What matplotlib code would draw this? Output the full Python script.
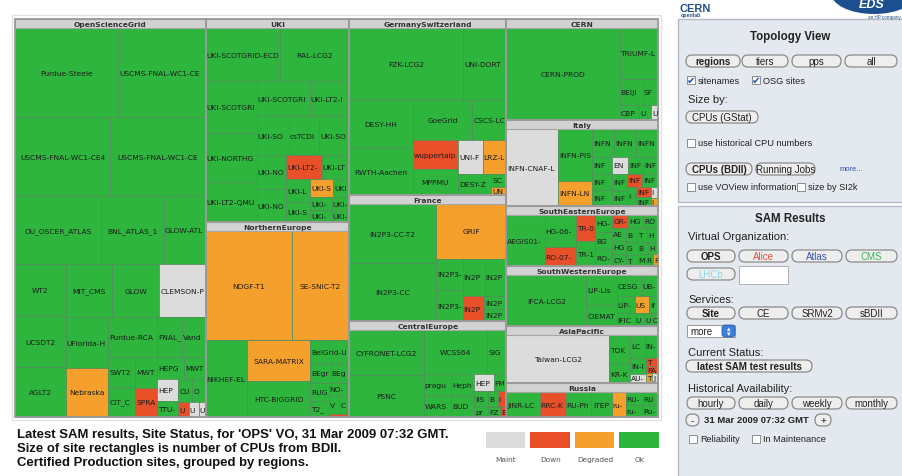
import matplotlib
matplotlib.use("Agg")
import matplotlib.pyplot as plt
from matplotlib.patches import Rectangle, FancyBboxPatch, Ellipse

# site lists per region: (name, cpus, status)
osg_sites = [
    ("Purdue-Steele", 9150, "ok"), ("USCMS-FNAL-WC1-CE2", 7740, "ok"),
    ("USCMS-FNAL-WC1-CE4", 7490, "ok"), ("USCMS-FNAL-WC1-CE", 7480, "ok"),
    ("OU_OSCER_ATLAS", 5830, "ok"), ("BNL_ATLAS_1", 4220, "ok"),
    ("GLOW-ATLAS", 2810, "ok"), ("WT2", 2600, "ok"), ("UCSDT2", 2590, "ok"),
    ("AGLT2", 2490, "ok"), ("MIT_CMS", 2485, "ok"), ("GLOW", 2480, "ok"),
    ("CLEMSON-Palmetto", 2450, "maint"), ("UFlorida-HPC", 2140, "ok"),
    ("Nebraska", 2090, "degraded"), ("Purdue-RCAC", 1890, "ok"),
    ("FNAL_GPGRID", 1000, "ok"), ("Vanderbilt", 900, "ok"), ("SWT2_CPB", 810, "ok"),
    ("CIT_CMS_T2", 800, "ok"), ("MWT2_IU", 690, "ok"), ("SPRACE", 640, "down"),
    ("HEPGRID_UERJ", 600, "ok"), ("MWT2_UC", 480, "ok"), ("HEPGRID", 450, "maint"),
    ("TTU-ANTAEUS", 345, "ok"), ("CUFormosa", 320, "ok"), ("OU_OCHEP", 300, "ok"),
    ("UCR-HEP", 150, "down"), ("UC_ATLAS", 150, "maint"), ("UTA_SWT2", 100, "maint"),
]
uki_sites = [
    ("UKI-SCOTGRID-ECDF", 3975, "ok"), ("RAL-LCG2", 3657, "ok"),
    ("UKI-SCOTGRID-GLASGOW", 2652, "ok"), ("UKI-NORTHGRID-MAN", 2496, "ok"),
    ("UKI-LT2-QMUL", 2028, "ok"), ("UKI-SCOTGRID-DURHAM", 1820, "ok"),
    ("UKI-LT2-IC-HEP", 1365, "ok"), ("UKI-SOUTHGRID-OX", 1250, "ok"),
    ("csTCDie", 1170, "ok"), ("UKI-SOUTHGRID-BHAM", 1165, "ok"),
    ("UKI-NORTHGRID-LANCS", 990, "ok"), ("UKI-NORTHGRID-LIV", 960, "ok"),
    ("UKI-LT2-Brunel", 840, "down"), ("UKI-LT2-RHUL", 650, "ok"),
    ("UKI-LT2-UCL-HEP", 570, "ok"), ("UKI-SCOTGRID-?", 475, "ok"),
    ("UKI-SE-DUB", 420, "degraded"), ("UKI-LT2-QMUL2", 300, "ok"),
    ("UKI-NORTHGRID-SHEF", 280, "ok"), ("UKI-SOUTHGRID-CAM", 250, "ok"),
    ("UKI-SOUTHGRID-BRIS", 230, "ok"), ("UKI-LT2-UCL-CENTRAL", 200, "ok"),
]
ne_sites = [
    ("NDGF-T1", 9350, "degraded"), ("SE-SNIC-T2", 6270, "degraded"),
    ("NIKHEF-ELPROD", 3150, "ok"), ("SARA-MATRIX", 2560, "degraded"),
    ("HTC-BIGGRID", 2240, "ok"), ("BelGrid-UCL", 875, "ok"),
    ("BEgrid-ULB-VUB", 420, "ok"), ("BEgrid-KULeuven", 380, "ok"),
    ("RUG-CIT", 320, "ok"), ("T2_Estonia", 300, "ok"), ("NO-NORGRID-T2", 250, "ok"),
    ("VU-Amsterdam", 200, "ok"), ("CT-SARA", 180, "ok"), ("NL-UU", 60, "down"),
]
gs_sites = [
    ("FZK-LCG2", 8136, "ok"), ("UNI-DORTMUND", 3066, "ok"), ("DESY-HH", 3050, "ok"),
    ("RWTH-Aachen", 2950, "ok"), ("GoeGrid", 2400, "ok"), ("CSCS-LCG2", 1360, "ok"),
    ("wuppertalprod", 1305, "down"), ("MPPMU", 1170, "ok"),
    ("UNI-FREIBURG", 825, "maint"), ("LRZ-LMU", 792, "degraded"),
    ("DESY-ZN", 704, "ok"), ("SCAI", 200, "ok"), ("UNI-SIEGEN-HEP", 120, "degraded"),
]
france_sites = [
    ("IN2P3-CC-T2", 5104, "ok"), ("IN2P3-CC", 5016, "ok"), ("GRIF", 3819, "degraded"),
    ("IN2P3-LPC", 840, "ok"), ("IN2P3-CPPM", 830, "ok"), ("IN2P3-SUBATECH", 820, "ok"),
    ("IN2P3-LAPP", 812, "ok"), ("IN2P3-IRES", 540, "down"), ("IN2P3-LPSC", 285, "ok"),
    ("IN2P3-LPNHE", 266, "ok"),
]
ce_sites = [
    ("CYFRONET-LCG2", 3312, "ok"), ("PSNC", 3096, "ok"), ("WCSS64", 2752, "ok"),
    ("SiGNET", 817, "ok"), ("praguelcg2", 600, "ok"), ("WARSAW-EGEE", 590, "ok"),
    ("Hephy-Vienna", 500, "ok"), ("BUDAPEST", 490, "ok"), ("HEPHY-UIBK", 336, "maint"),
    ("FMPhI-UNIBA", 224, "ok"), ("IISAS-Bratislava", 200, "ok"),
    ("IEPSAS-Kosice", 136, "down"), ("prague_cesnet", 150, "ok"), ("BY-UIIP", 150, "ok"),
    ("FZU-T3", 120, "ok"), ("ELTE", 60, "down"),
]
cern_sites = [
    ("CERN-PROD", 10396, "ok"), ("TRIUMF-LCG2", 1938, "ok"), ("BEIJING-LCG2", 600, "ok"),
    ("SFU-LCG2", 396, "ok"), ("CBPF", 312, "ok"), ("UniAndes", 180, "ok"),
    ("UNIBE-LHEP", 110, "maint"),
]
italy_sites = [
    ("INFN-CNAF-LHCB", 3952, "maint"), ("INFN-PISA", 1734, "ok"),
    ("INFN-LNL-2", 850, "degraded"), ("INFN-BARI", 590, "ok"), ("INFN-NAPOLI", 590, "ok"),
    ("INFN-MILANO", 588, "ok"), ("INFN-TORINO", 330, "ok"), ("INFN-PADOVA", 328, "ok"),
    ("INFN-ROMA1", 300, "ok"), ("ENEA-INFO", 280, "maint"), ("INFN-CATANIA", 260, "ok"),
    ("INFN-FRASCATI", 258, "ok"), ("INFN-BOLOGNA", 250, "ok"), ("INFN-FERRARA", 220, "ok"),
    ("INFN-PERUGIA", 200, "down"), ("INFN-GENOVA", 198, "ok"), ("INFN-CAGLIARI", 180, "ok"),
    ("INFN-LECCE", 150, "down"), ("INFN-TRIESTE", 120, "ok"), ("INFN-PAVIA", 80, "maint"),
    ("INFN-FIRENZE", 60, "degraded"),
]
see_sites = [
    ("AEGIS01-PHY-SCL", 1961, "ok"), ("HG-06-EKT", 990, "ok"), ("RO-07-NIPNE", 600, "down"),
    ("TR-01-ULAKBIM", 520, "down"), ("TR-10-ULAKBIM", 490, "ok"), ("HG-01-GRNET", 290, "ok"),
    ("BG05-SUGrid", 289, "ok"), ("RO-01-ICI", 288, "ok"), ("GR-01-AUTH", 200, "down"),
    ("HG-02-IASA", 199, "ok"), ("RO-02-NIPNE", 180, "ok"), ("AEGIS04-KG", 180, "ok"),
    ("HG-03-AUTH", 179, "ok"), ("CY-01-KIMON", 178, "ok"), ("BG01-IPP", 150, "ok"),
    ("TR-03-METU", 150, "ok"), ("HG-04-CTI", 149, "ok"), ("GR-02-UoM", 148, "ok"),
    ("TR-04-ERCIYES", 130, "ok"), ("BG04-ACAD", 130, "ok"), ("HG-05-FORTH", 120, "ok"),
    ("MK-01-UKIM", 100, "ok"), ("RO-03-UPB", 100, "ok"), ("RO-08-UVT", 60, "degraded"),
]
swe_sites = [
    ("IFCA-LCG2", 4029, "ok"), ("LIP-Lisbon", 900, "ok"), ("CIEMAT-LCG2", 630, "ok"),
    ("CESGA-EGEE", 525, "ok"), ("UB-LCG2", 336, "ok"), ("LIP-Coimbra", 300, "ok"),
    ("IFIC-LCG2", 240, "ok"), ("USC-LCG2", 235, "degraded"), ("ifae", 150, "ok"),
    ("UAM-LCG2", 120, "ok"), ("UPV-GRyCAP", 100, "ok"), ("CETA-GRID", 80, "ok"),
]
ap_sites = [
    ("Taiwan-LCG2", 4888, "maint"), ("TOKYO-LCG2", 609, "ok"), ("KR-KISTI-GCRT-01", 400, "ok"),
    ("LCG_KNU", 325, "ok"), ("IN-DAE-VECC-01", 300, "ok"), ("IN-INDIACMS-TIFR", 250, "ok"),
    ("AU-ATLAS", 150, "maint"), ("TW-NCUHEP", 100, "down"), ("PAKGRID-LCG2", 80, "down"),
    ("TW-NTU-HEP", 60, "degraded"), ("JP-HIROSHIMA", 60, "maint"),
]
russia_sites = [
    ("JINR-LCG2", 825, "ok"), ("RRC-KI", 640, "down"), ("RU-Phys-SPbSU", 620, "ok"),
    ("ITEP", 520, "ok"), ("ru-Moscow-SINP", 350, "degraded"), ("RU-Protvino-IHEP", 220, "ok"),
    ("ru-PNPI", 200, "ok"), ("RU-SPbSU", 200, "ok"), ("Ru-Troitsk-INR", 180, "ok"),
]

regions = {
    "OpenScienceGrid": osg_sites, "UKI": uki_sites, "NorthernEurope": ne_sites,
    "GermanySwitzerland": gs_sites, "France": france_sites, "CentralEurope": ce_sites,
    "CERN": cern_sites, "Italy": italy_sites, "SouthEasternEurope": see_sites,
    "SouthWesternEurope": swe_sites, "AsiaPacific": ap_sites, "Russia": russia_sites,
}
columns = [
    ["OpenScienceGrid"],
    ["UKI", "NorthernEurope"],
    ["GermanySwitzerland", "France", "CentralEurope"],
    ["CERN", "Italy", "SouthEasternEurope", "SouthWesternEurope", "AsiaPacific", "Russia"],
]

status_names = ["Maint", "Down", "Degraded", "Ok"]
status_keys = ["maint", "down", "degraded", "ok"]
colors = {"maint": "#dcdcdc", "down": "#e8502a", "degraded": "#f5a02d", "ok": "#2db53e"}

caption = ["Latest SAM results, Site Status, for 'OPS' VO, 31 Mar 2009 07:32 GMT.",
           "Size of site rectangles is number of CPUs from BDII.",
           "Certified Production sites, grouped by regions."]


def worst(row, side):
    s = sum(row)
    return max(max(side * side * r / (s * s), s * s / (side * side * r)) for r in row)


def squarify(values, x, y, w, h):
    total = sum(values)
    vals = [v * w * h / total for v in values]
    rects = []
    while vals:
        side = min(w, h)
        row = [vals[0]]
        i = 1
        while i < len(vals) and worst(row + [vals[i]], side) <= worst(row, side):
            row.append(vals[i])
            i += 1
        s = sum(row)
        if w >= h:
            t = s / h
            yy = y
            for v in row:
                rects.append((x, yy, t, v / t))
                yy += v / t
            x += t
            w -= t
        else:
            t = s / w
            xx = x
            for v in row:
                rects.append((xx, y, v / t, t))
                xx += v / t
            y += t
            h -= t
        vals = vals[i:]
    return rects


W, H = 903, 477
fig = plt.figure(figsize=(9.03, 4.77), dpi=100)
ax = fig.add_axes([0, 0, 1, 1])
ax.set_xlim(0, W)
ax.set_ylim(H, 0)
ax.axis("off")
renderer = fig.canvas.get_renderer()

X0, Y0, X1, Y1 = 15, 20, 658, 418
HEAD = 9

ax.add_patch(Rectangle((12, 16), 649, 405, fc="none", ec="#e2e2e2", lw=1))


def draw_region(name, x, y, w, h):
    sites = sorted(regions[name], key=lambda s: -s[1])
    rects = squarify([s[1] for s in sites], x, y + HEAD, w, h - HEAD)
    for (sname, cpus, st), (rx, ry, rw, rh) in zip(sites, rects):
        p = Rectangle((rx, ry), rw, rh, fc=colors[st], ec="#4f8a58", lw=0.5)
        ax.add_patch(p)
        if rw < 4 or rh < 6:
            continue
        t = ax.text(rx + rw / 2, ry + rh / 2, sname, ha="center", va="center",
                    fontsize=5.4, color="#1c1c1c", family="DejaVu Sans", clip_on=True)
        tw = t.get_window_extent(renderer).width
        if tw > rw - 2:
            # the cell is too narrow: show as much of the name as fits, from the left
            t.set_ha("left")
            t.set_x(rx + 1)
            shown = sname
            while len(shown) > 1 and t.get_window_extent(renderer).width > rw - 2:
                shown = shown[:-1]
                t.set_text(shown)
        t.set_clip_path(p)
    ax.add_patch(Rectangle((x, y), w, HEAD, fc="#d2d2d2", ec="#a5a5a5", lw=0.8))
    ax.text(x + w / 2, y + HEAD / 2 + 0.3, name, ha="center", va="center",
            fontsize=5.4, fontweight="bold", color="#333333", family="DejaVu Sans")
    ax.add_patch(Rectangle((x, y), w, h, fc="none", ec="#9a9a9a", lw=1.3))


ratios = []
for col in columns:
    s = sum(sum(site[1] for site in regions[r]) for r in col)
    ratios.append(s / ((Y1 - Y0) - HEAD * len(col)))
k = (X1 - X0) / sum(ratios)
cx = X0
for col, ratio in zip(columns, ratios):
    cw = k * ratio
    s = sum(sum(site[1] for site in regions[r]) for r in col)
    avail = (Y1 - Y0) - HEAD * len(col)
    cy = Y0
    for r in col:
        rh = avail * sum(site[1] for site in regions[r]) / s + HEAD
        draw_region(r, cx, cy, cw, rh)
        cy += rh
    cx += cw

# caption
for i, line in enumerate(caption):
    ax.text(17, 435 + i * 14, line, fontsize=9.45, fontweight="bold", color="#111111",
            va="center", family="Liberation Sans")

# legend
for i, (lab, key) in enumerate(zip(status_names, status_keys)):
    lx = 486 + i * 44.5
    ax.add_patch(Rectangle((lx, 433), 39.5, 16, fc=colors[key], ec="none"))
    ax.text(lx + 20, 460, lab, fontsize=5.3, ha="center", va="center", color="#555555",
            family="DejaVu Sans")

# right panel
PF = "Liberation Sans"
ax.text(680, 9, "CERN", fontsize=8, fontweight="bold", color="#1f4f8f", va="center", family=PF)
ax.text(681, 15.5, "openlab", fontsize=3.8, fontweight="bold", color="#1f4f8f", va="center", family=PF)
ax.add_patch(Ellipse((874, -6), 86, 42, fc="#1c4f8e", ec="none"))
ax.text(872, 5, "EDS", fontsize=9, fontweight="bold", style="italic", color="white",
        ha="center", va="center", family=PF)
ax.text(884, 18, "an HP company", fontsize=3.3, color="#1c4f8e", ha="center", va="center", family=PF)

ax.add_patch(Rectangle((678, 20), 240, 183, fc="#e4e8ef", ec="#b4bac4", lw=1))
ax.add_patch(Rectangle((678, 207), 240, 280, fc="#e4e8ef", ec="#b4bac4", lw=1))


def button(x0, x1, yc, label, bold=False, color="#222222", hh=12):
    ax.add_patch(FancyBboxPatch((x0, yc - hh / 2), x1 - x0, hh,
                                boxstyle="round,pad=0,rounding_size=%g" % (hh / 2),
                                fc="#eeeeee", ec="#8a8a8a", lw=0.9))
    ax.text((x0 + x1) / 2, yc, label, ha="center", va="center", fontsize=7,
            fontweight="bold" if bold else "normal", color=color, family=PF)


def checkbox(x, yc, checked, label):
    ax.add_patch(Rectangle((x, yc - 4), 8, 8, fc="white", ec="#8c8c8c", lw=0.7))
    if checked:
        ax.text(x + 4.5, yc - 0.5, "\u2714", color="#2356b8", fontsize=7.5,
                ha="center", va="center", family="DejaVu Sans")
    ax.text(x + 11, yc, label, fontsize=6.6, va="center", color="#222222", family=PF)


def label(x, yc, text, size=8, bold=False, center=False):
    ax.text(x, yc, text, fontsize=size, va="center", ha="center" if center else "left",
            fontweight="bold" if bold else "normal", color="#222222", family=PF)


label(790, 37, "Topology View", 8.3, True, True)
for (a, b, t, bo) in [(686, 740, "regions", True), (742, 788, "tiers", False),
                      (792, 841, "pps", False), (845, 897, "all", False)]:
    button(a, b, 62, t, bo)
checkbox(687, 81, True, "sitenames")
checkbox(752, 81, True, "OSG sites")
label(688, 100, "Size by:")
button(686, 758, 118, "CPUs (GStat)")
checkbox(687, 144, False, "use historical CPU numbers")
button(686, 752, 170, "CPUs (BDII)", True)
button(756, 815, 170, "Running Jobs")
ax.text(840, 170, "more...", fontsize=5.5, color="#3355aa", va="center", family=PF)
checkbox(687, 188, False, "use VOView information")
checkbox(797, 188, False, "size by SI2k")

label(790, 219, "SAM Results", 8.3, True, True)
label(688, 237, "Virtual Organization:")
for (a, b, t, bo, c) in [(687, 735, "OPS", True, "#222222"), (739, 788, "Alice", False, "#e8503c"),
                         (792, 842, "Atlas", False, "#3a55a8"), (846, 897, "CMS", False, "#3cb45a")]:
    button(a, b, 257, t, bo, c)
button(687, 735, 275, "LHCb", False, "#8fd6e6")
ax.add_patch(Rectangle((739, 267), 49, 18, fc="white", ec="#b0b0b0", lw=0.7))
label(688, 300, "Services:")
for (a, b, t, bo) in [(687, 735, "Site", True), (739, 788, "CE", False),
                      (792, 842, "SRMv2", False), (846, 897, "sBDII", False)]:
    button(a, b, 314, t, bo)
ax.add_patch(Rectangle((687, 326), 48, 12, fc="white", ec="#9a9a9a", lw=0.7))
ax.add_patch(FancyBboxPatch((722, 326), 13, 12, boxstyle="round,pad=0,rounding_size=3",
                            fc="#3c7fd8", ec="#2a5fa8", lw=0.6))
ax.text(728.5, 329.5, "\u25b4", fontsize=5, color="white", ha="center", va="center", family="DejaVu Sans")
ax.text(728.5, 334.5, "\u25be", fontsize=5, color="white", ha="center", va="center", family="DejaVu Sans")
ax.text(690, 332, "more", fontsize=7, va="center", color="#222222", family=PF)
label(688, 353, "Current Status:")
button(686, 812, 367, "latest SAM test results", True)
label(688, 389, "Historical Availability:")
for (a, b, t) in [(687, 735, "hourly"), (739, 788, "daily"), (792, 842, "weekly"), (846, 897, "monthly")]:
    button(a, b, 404, t)
button(686, 699, 421, "-")
ax.text(704, 421, "31 Mar 2009 07:32 GMT", fontsize=6.8, fontweight="bold", va="center",
        color="#222222", family=PF)
button(815, 831, 421, "+")
checkbox(689, 440, False, "Reliability")
checkbox(752, 440, False, "In Maintenance")

fig.savefig("out.png", dpi=100)
